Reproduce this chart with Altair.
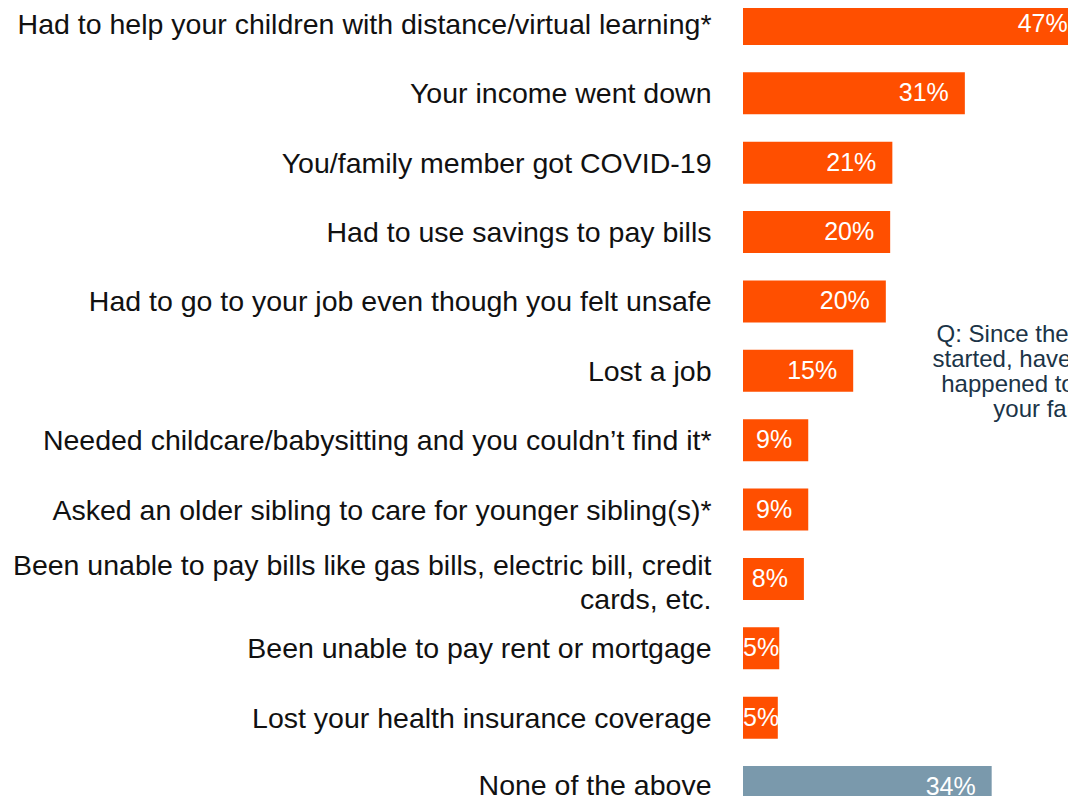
import altair as alt
import pandas as pd

categories = [
    "Had to help your children with distance/virtual learning*",
    "Your income went down",
    "You/family member got COVID-19",
    "Had to use savings to pay bills",
    "Had to go to your job even though you felt unsafe",
    "Lost a job",
    "Needed childcare/babysitting and you couldn\u2019t find it*",
    "Asked an older sibling to care for younger sibling(s)*",
    "Been unable to pay bills like gas bills, electric bill, credit|cards, etc.",
    "Been unable to pay rent or mortgage",
    "Lost your health insurance coverage",
    "None of the above",
]
values = [47.0, 30.6, 20.6, 20.3, 19.7, 15.2, 9.0, 9.0, 8.4, 5.0, 4.8, 34.3]
groups = ["impact"] * 11 + ["none"]

question = "Q: Since the pandemic\nstarted, have any of the\nhappened to you or to\nyour family?"

df = pd.DataFrame({"cat": categories, "v": values, "grp": groups})

FONT = "Liberation Sans"
ORANGE = "#FF4F00"
GREY = "#7A99AC"

W, H = 325, 788

y_enc = alt.Y(
    "cat:N",
    sort=None,
    scale=alt.Scale(range=[-5, 800], paddingInner=0.3945, paddingOuter=0),
    axis=alt.Axis(
        title=None,
        ticks=False,
        domain=False,
        labelPadding=32,
        labelFont=FONT,
        labelFontSize=28.5,
        labelColor="#111111",
        labelLimit=1000,
        labelLineHeight=34,
        labelExpr="split(datum.label, '|')",
        labelOffset={
            "condition": [
                {"test": "indexof(datum.value, '|') >= 0", "value": -13},
                {"test": "datum.value === 'None of the above'", "value": -1},
            ],
            "value": 1,
        },
    ),
)

x_scale = alt.Scale(domain=[0, W / 7.25], nice=False, zero=True)

base = alt.Chart(df)

bars = base.mark_bar().encode(
    y=y_enc,
    x=alt.X("v:Q", scale=x_scale, axis=None),
    color=alt.Color(
        "grp:N",
        scale=alt.Scale(domain=["impact", "none"], range=[ORANGE, GREY]),
        legend=None,
    ),
)

big_labels = (
    base.transform_filter("datum.v >= 7")
    .transform_calculate(lbl="format(datum.v, '.0f') + '%'")
    .mark_text(align="right", baseline="middle", dx=-16, font=FONT, fontSize=25, color="white")
    .encode(y=alt.Y("cat:N", sort=None), x=alt.X("v:Q", scale=x_scale), text="lbl:N")
)

small_labels = (
    base.transform_filter("datum.v < 7")
    .transform_calculate(lbl="format(datum.v, '.0f') + '%'", zero="0")
    .mark_text(align="left", baseline="middle", font=FONT, fontSize=25, color="white")
    .encode(y=alt.Y("cat:N", sort=None), x=alt.X("zero:Q", scale=x_scale), text="lbl:N")
)

note = (
    alt.Chart(pd.DataFrame({"t": [question]}))
    .mark_text(
        align="center",
        baseline="alphabetic",
        lineBreak="\n",
        lineHeight=25,
        font=FONT,
        fontSize=24,
        color="#1B3447",
    )
    .encode(text="t:N", x=alt.value(315), y=alt.value(334))
)

chart = (
    alt.layer(bars, big_labels, small_labels, note)
    .properties(
        width=W,
        height=H,
        autosize=alt.AutoSizeParams(type="none"),
        padding={"left": 735, "top": 0, "right": 0, "bottom": 0},
        background="white",
    )
    .configure_view(stroke=None)
)

chart.save("out.html", embed_options={"renderer": "svg", "actions": False})
